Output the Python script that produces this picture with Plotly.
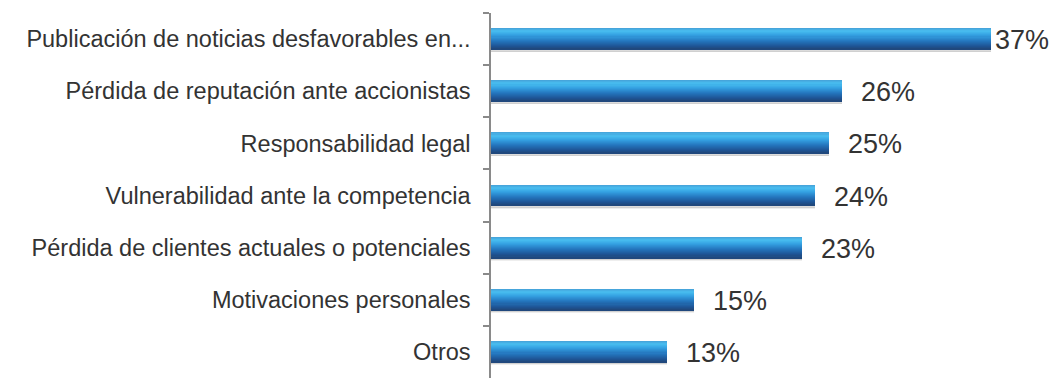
import plotly.graph_objects as go

# Categories and percentages
categories = [
    "Publicación de noticias desfavorables en...",
    "Pérdida de reputación ante accionistas",
    "Responsabilidad legal",
    "Vulnerabilidad ante la competencia",
    "Pérdida de clientes actuales o potenciales",
    "Motivaciones personales",
    "Otros",
]
values = [37, 26, 25, 24, 23, 15, 13]
value_labels = ["37%", "26%", "25%", "24%", "23%", "15%", "13%"]

FONT = "Liberation Sans, Arial, sans-serif"
TEXT = "#333333"

fig = go.Figure()

# Soft drop shadow under each bar
for off, w, a in [(0.19, 0.05, 0.30), (0.22, 0.03, 0.15)]:
    fig.add_trace(go.Bar(
        y=categories, x=values, orientation="h",
        width=w, offset=off,
        marker=dict(color=f"rgba(140,140,140,{a})", line=dict(width=0)),
        hoverinfo="skip", showlegend=False,
    ))

# Cylinder-like shading: thin strips blended from light top to dark bottom
stops = [(0.00, (70, 160, 215)), (0.15, (72, 190, 240)), (0.35, (52, 160, 225)),
         (0.60, (36, 118, 190)), (0.85, (30, 85, 150)), (1.00, (32, 70, 120))]


def shade(t):
    for (t0, c0), (t1, c1) in zip(stops, stops[1:]):
        if t <= t1:
            f = (t - t0) / (t1 - t0)
            return "rgb(%d,%d,%d)" % tuple(round(a + (b - a) * f) for a, b in zip(c0, c1))
    return "rgb(%d,%d,%d)" % stops[-1][1]


n_strips = 20
half = 0.2
step = 2 * half / n_strips
for i in range(n_strips):
    fig.add_trace(go.Bar(
        y=categories, x=values, orientation="h",
        width=step * 1.15, offset=-half + i * step,
        marker=dict(color=shade((i + 0.5) / n_strips), line=dict(width=0)),
        hoverinfo="skip", showlegend=False,
    ))

# Percentage labels to the right of each bar
vmax = max(values)
for cat, v, lab in zip(categories, values, value_labels):
    fig.add_annotation(
        x=v, y=cat, text=lab, showarrow=False,
        xanchor="left", yanchor="middle",
        xshift=2 if v == vmax else 17, yshift=-1,
        font=dict(family=FONT, size=27, color=TEXT),
    )

fig.update_layout(
    width=1057, height=378,
    margin=dict(l=491, r=46, t=13, b=0),
    paper_bgcolor="white", plot_bgcolor="white",
    barmode="overlay", bargap=0,
    showlegend=False,
    xaxis=dict(range=[0, 38.5], visible=False, fixedrange=True),
    yaxis=dict(
        type="category", categoryorder="array", categoryarray=categories,
        autorange="reversed",
        showline=True, linecolor="#8a8a8a", linewidth=1.5,
        ticks="outside", ticklen=6, tickcolor="#8a8a8a", tickwidth=1.5,
        tickson="boundaries", ticklabelstandoff=14,
        showgrid=False, zeroline=False,
        tickfont=dict(family=FONT, size=23.5, color=TEXT),
    ),
)

fig.write_html("out.html")
